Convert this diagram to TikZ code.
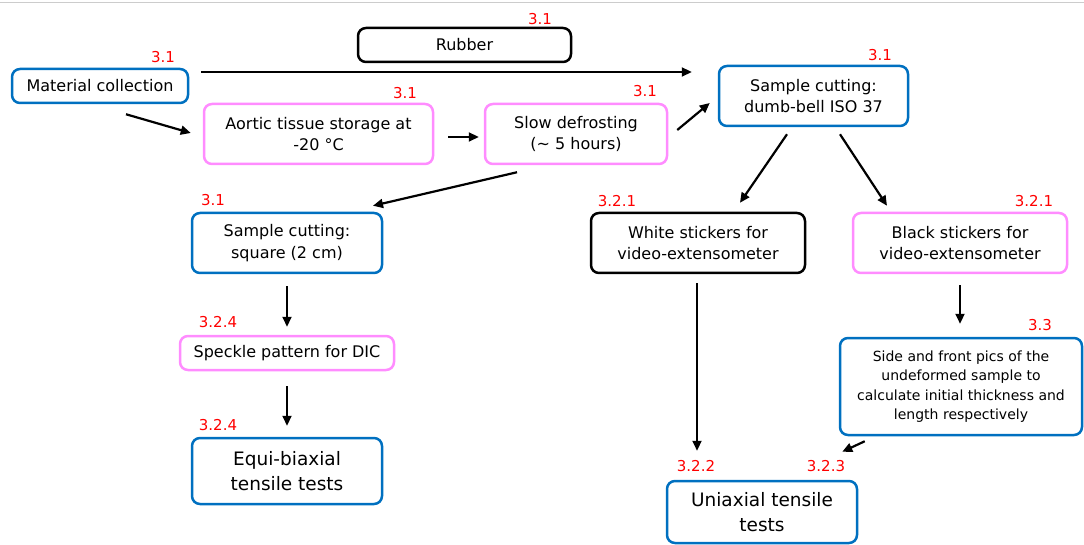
\documentclass[tikz,border=0pt]{standalone}
\usepackage{fontspec}
\setmainfont{DejaVu Sans}
\usetikzlibrary{calc,arrows.meta}
\definecolor{bblue}{HTML}{0070C0}
\definecolor{ppink}{HTML}{FF8CFF}
\begin{document}
\begin{tikzpicture}[x=1pt,y=-1pt,
 box/.style={draw, rounded corners=8pt, line width=2.5pt, align=center, inner sep=0pt, font=\fontsize{16}{21.5}\selectfont},
 bluebox/.style={box, draw=bblue},
 pinkbox/.style={box, draw=ppink},
 blackbox/.style={box, draw=black},
 num/.style={text=red, font=\fontsize{15}{17}\selectfont, inner sep=0pt},
 arr/.style={-{Triangle[length=10pt,width=9pt]}, line width=2.2pt}]
\useasboundingbox (0,0) rectangle (1084,545);
\draw[black!20, line width=1pt] (0,3) -- (1084,3);

\node[bluebox, minimum width=176pt, minimum height=34pt] (mc) at (100,86) {Material collection};
\node[blackbox, minimum width=213pt, minimum height=34pt] (rub) at (464.5,45) {Rubber};
\node[pinkbox, minimum width=229pt, minimum height=60pt] (aor) at (318.5,134) {Aortic tissue storage at\\-20 °C};
\node[pinkbox, minimum width=182pt, minimum height=60pt] (slow) at (576,134) {Slow defrosting\\(\textasciitilde{} 5 hours)};
\node[bluebox, minimum width=189pt, minimum height=60pt] (dumb) at (813.5,96) {Sample cutting:\\dumb-bell ISO 37};
\node[bluebox, minimum width=190pt, minimum height=60pt] (sq) at (287,243) {Sample cutting:\\square (2 cm)};
\node[pinkbox, minimum width=214pt, minimum height=34pt] (spk) at (287,353) {Speckle pattern for DIC};
\node[bluebox, minimum width=190pt, minimum height=66pt, font=\fontsize{18.5}{24.5}\selectfont] (equi) at (287,471) {Equi-biaxial\\tensile tests};
\node[blackbox, minimum width=214pt, minimum height=60pt] (white) at (698,243) {White stickers for\\video-extensometer};
\node[pinkbox, minimum width=214pt, minimum height=60pt] (black) at (960,243) {Black stickers for\\video-extensometer};
\node[bluebox, minimum width=242pt, minimum height=97pt, font=\fontsize{14}{19.5}\selectfont] (side) at (961,386.5) {Side and front pics of the\\undeformed sample to\\calculate initial thickness and\\length respectively};
\node[bluebox, minimum width=190pt, minimum height=62pt, font=\fontsize{18.5}{24.5}\selectfont] (uni) at (762,512) {Uniaxial tensile\\tests};

\node[num] (n1) at (163,57) {3.1};
\node[num] (n2) at (540,19) {3.1};
\node[num] (n3) at (405,93) {3.1};
\node[num] (n4) at (645,91) {3.1};
\node[num] (n5) at (880,55) {3.1};
\node[num] (n6) at (213,200) {3.1};
\node[num] (n7) at (218,322) {3.2.4};
\node[num] (n8) at (218,425) {3.2.4};
\node[num] (n9) at (617,201) {3.2.1};
\node[num] (n10) at (1034,201) {3.2.1};
\node[num] (n11) at (1040,325) {3.3};
\node[num] (n12) at (696,466) {3.2.2};
\node[num] (n13) at (826,466) {3.2.3};

\draw[arr] ($(mc.east)+(12,-14)$) -- ($(dumb.west)+(-26,-24)$);
\draw[arr] ($(mc.south)+(26,10)$) -- ($(aor.west)+(-12,-1)$);
\draw[arr] ($(aor.east)+(14,3)$) -- ($(slow.west)+(-5,3)$);
\draw[arr] ($(slow.east)+(9,-4)$) -- ($(dumb.west)+(-8,7)$);
\draw[arr] ($(slow.south)+(-59,7)$) -- ($(sq.north)+(86,-6)$);
\draw[arr] ($(sq.south)+(0,12)$) -- ($(spk.north)+(0,-8)$);
\draw[arr] ($(spk.south)+(0,15)$) -- ($(equi.north)+(0,-11)$);
\draw[arr] ($(dumb.south)+(-26.5,7)$) -- ($(white.north)+(42,-9)$);
\draw[arr] ($(dumb.south)+(26.5,7)$) -- ($(black.north)+(-73,-6)$);
\draw[arr] ($(white.south)+(-1,9)$) -- ($(uni.north)+(-65,-29)$);
\draw[arr] ($(black.south)+(0,11)$) -- ($(side.north)+(-1,-13)$);
\draw[arr] ($(side.south west)+(26,5)$) -- ($(uni.north east)+(-16,-28)$);
\end{tikzpicture}
\end{document}
